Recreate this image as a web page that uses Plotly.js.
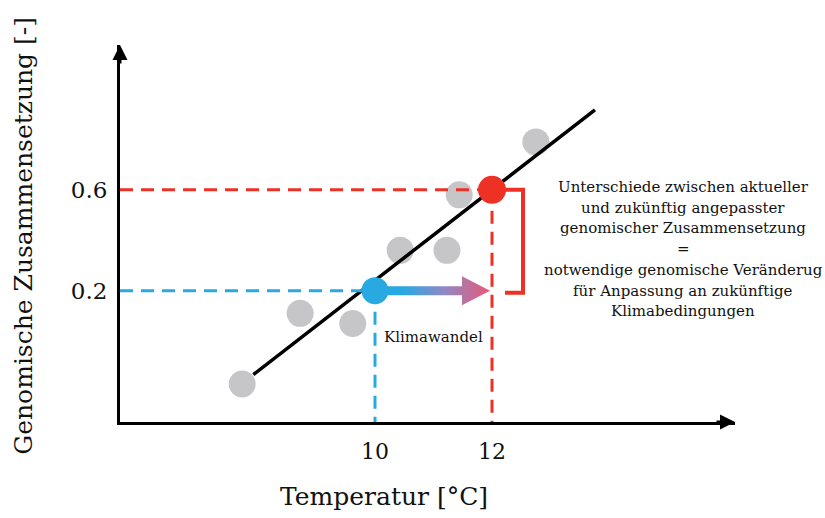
<!DOCTYPE html>
<html>
<head>
<meta charset="utf-8">
<script src="https://cdn.plot.ly/plotly-3.0.1.min.js"></script>
<style>html,body{margin:0;padding:0;background:#fff;}#chart{width:825px;height:518px;}</style>
</head>
<body>
<div id="chart"></div>
<script>
// ---- data ----
const grayX = [7.73, 8.72, 9.62, 10.43, 11.23, 11.44, 12.75];
const grayY = [-0.17, 0.11, 0.07, 0.36, 0.36, 0.58, 0.79];
const fitX = [7.92, 13.76];
const fitY = [-0.133, 0.917];
const currentPoint = {x: 10, y: 0.2};   // blue
const futurePoint = {x: 12, y: 0.6};    // red
const xTickVals = [10, 12];
const xTickText = ["10", "12"];
const yTickVals = [0.2, 0.6];
const yTickText = ["0.2", "0.6"];
const xTitle = "Temperatur [°C]";
const yTitle = "Genomische Zusammensetzung [-]";
const arrowLabel = "Klimawandel";
const noteLines = [
  "Unterschiede zwischen aktueller",
  "und zukünftig angepasster",
  "genomischer Zusammensetzung",
  "=",
  "notwendige genomische Veränderug",
  "für Anpassung an zukünftige",
  "Klimabedingungen"
];

// ---- scales (pixels per unit) ----
const PXX = 58.5, PXY = 252.5;
const L = 120, T = 45, W = 615, H = 377.5;
const xRange = [10 - 255 / PXX, 10 + 360 / PXX];
const yRange = [0.2 - 131.5 / PXY, 0.2 + 246 / PXY];
const px2paperX = p => (p - L) / W;
const px2paperY = p => (T + H - p) / H;

const RED = '#ed3125', BLUE = '#29a9e1', GRAY = '#c6c6c8';
const FONT = 'DejaVu Serif, Liberation Serif, serif';

const bx = currentPoint.x, by = currentPoint.y;
const rx = futurePoint.x, ry = futurePoint.y;

// gradient arrow polygon derived from the two points
const tip = rx - 2 / PXX, base = tip - 28 / PXX;
const sh = 4.5 / PXY, hh = 14.5 / PXY;
const arrowX = [bx, base, base, tip, base, base, bx, bx];
const arrowY = [by + sh, by + sh, by + hh, by, by - hh, by - sh, by - sh, by + sh];

// bracket derived from the two y values
const bL = rx + 13 / PXX, bR = rx + 31 / PXX;
const bracketX = [bL, bR, bR, bL];
const bracketY = [ry, ry, by - 2 / PXY, by - 2 / PXY];

const dash = '13px,8px';
const traces = [
  {x: grayX, y: grayY, mode: 'markers', marker: {size: 27, color: GRAY}, hoverinfo: 'skip'},
  {x: fitX, y: fitY, mode: 'lines', line: {color: '#000', width: 3.5}, hoverinfo: 'skip'},
  {x: [xRange[0], rx], y: [ry, ry], mode: 'lines', line: {color: RED, width: 3, dash: dash}},
  {x: [rx, rx], y: [ry, yRange[0]], mode: 'lines', line: {color: RED, width: 3, dash: dash}},
  {x: [xRange[0], bx], y: [by, by], mode: 'lines', line: {color: BLUE, width: 3, dash: dash}},
  {x: [bx, bx], y: [by, yRange[0]], mode: 'lines', line: {color: BLUE, width: 3, dash: dash}},
  {x: arrowX, y: arrowY, mode: 'lines', fill: 'toself', line: {width: 0, color: 'rgba(0,0,0,0)'},
   fillgradient: {type: 'horizontal', colorscale: [[0, BLUE], [0.25, BLUE], [0.6, '#9088c4'], [1, '#e8587a']]}},
  {x: [bx], y: [by], mode: 'markers', marker: {size: 27, color: BLUE}},
  {x: [rx], y: [ry], mode: 'markers', marker: {size: 28, color: RED}},
  {x: bracketX, y: bracketY, mode: 'lines', line: {color: RED, width: 4}}
];

const annotations = [];
// axis arrowheads
annotations.push({xref: 'paper', yref: 'paper', x: 0, y: 1, ax: 0, ay: 20, text: '', showarrow: true,
  arrowhead: 2, arrowsize: 1, arrowwidth: 3, arrowcolor: '#000'});
annotations.push({xref: 'paper', yref: 'paper', x: 1, y: 0, ax: -20, ay: 0, text: '', showarrow: true,
  arrowhead: 2, arrowsize: 1, arrowwidth: 3, arrowcolor: '#000'});
// titles
annotations.push({xref: 'paper', yref: 'paper', x: px2paperX(384), y: px2paperY(497), text: xTitle, showarrow: false,
  font: {family: FONT, size: 25, color: '#111'}, xanchor: 'center', yanchor: 'middle'});
annotations.push({xref: 'paper', yref: 'paper', x: px2paperX(24), y: px2paperY(236), text: yTitle, showarrow: false,
  textangle: -90, font: {family: FONT, size: 25, color: '#111'}, xanchor: 'center', yanchor: 'middle'});
// arrow label
annotations.push({xref: 'x', yref: 'y', x: bx + 7 / PXX, y: by - 46 / PXY, text: arrowLabel, showarrow: false,
  font: {family: FONT, size: 15, color: '#111'}, xanchor: 'left', yanchor: 'middle'});
// note
noteLines.forEach((t, i) => {
  annotations.push({xref: 'x', yref: 'y', x: 10 + 308 / PXX, y: 0.2 + (291 - (187 + 20.8 * i)) / PXY,
    text: t, showarrow: false, font: {family: FONT, size: 15, color: '#111'}, xanchor: 'center', yanchor: 'middle'});
});

const layout = {
  width: 825, height: 518,
  margin: {l: L, r: 825 - L - W, t: T, b: 518 - T - H},
  paper_bgcolor: '#fff', plot_bgcolor: '#fff',
  showlegend: false,
  xaxis: {range: xRange, showgrid: false, zeroline: false, showline: true, linecolor: '#000', linewidth: 3,
    tickvals: xTickVals, ticktext: xTickText, ticks: 'outside', ticklen: 8, tickcolor: 'rgba(0,0,0,0)',
    tickfont: {family: FONT, size: 22, color: '#111'}, fixedrange: true},
  yaxis: {range: yRange, showgrid: false, zeroline: false, showline: true, linecolor: '#000', linewidth: 3,
    tickvals: yTickVals, ticktext: yTickText, ticks: 'outside', ticklen: 5, tickcolor: 'rgba(0,0,0,0)',
    tickfont: {family: FONT, size: 23, color: '#111'}, fixedrange: true},
  annotations: annotations
};

Plotly.newPlot('chart', traces, layout, {displayModeBar: false, staticPlot: true});
</script>
</body>
</html>
